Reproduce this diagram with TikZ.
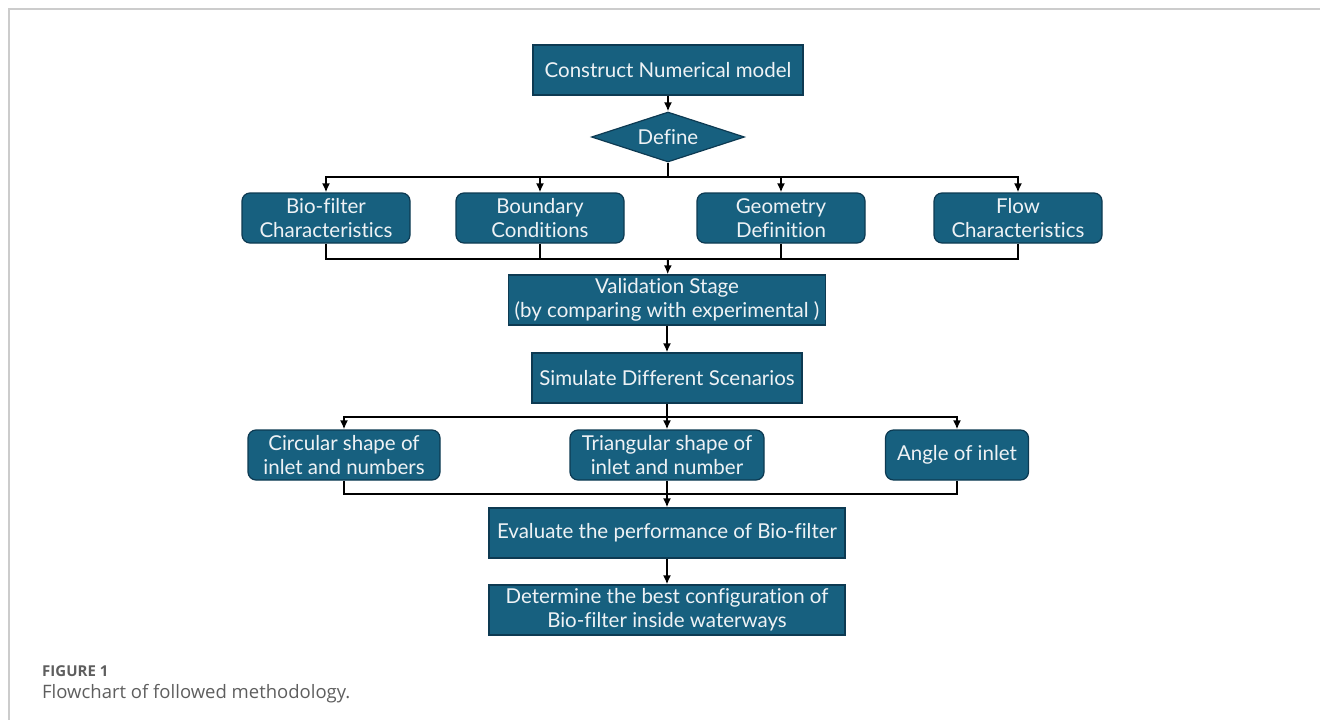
\documentclass[tikz,border=0pt]{standalone}
\usepackage{fontspec}
\setmainfont[Ligatures={NoCommon}]{Lato}
\newfontfamily\capfont{Open Sans}
\usetikzlibrary{shapes.geometric,arrows.meta}
\definecolor{boxblue}{HTML}{17607F}
\definecolor{boxedge}{HTML}{0D3A52}
\definecolor{boxtext}{HTML}{EEF2F5}
\definecolor{framegray}{HTML}{CCCCCC}
\definecolor{capgray}{HTML}{5E5E5E}
\begin{document}
\begin{tikzpicture}[x=1pt,y=-1pt,
    font=\fontsize{20.5}{24}\selectfont,
    stepbox/.style={draw=boxedge,line width=1.2pt,fill=boxblue,text=boxtext,
        align=center,inner sep=0pt,minimum height=50pt},
    roundbox/.style={stepbox,rounded corners=8pt},
    choice/.style={stepbox,diamond,aspect=3,minimum width=153pt,minimum height=50pt},
    conn/.style={line width=2pt},
    arr/.style={conn,-{Latex[length=9pt,width=8pt]}}]
\useasboundingbox (0,0) rectangle (1320,720);
% frame
\draw[framegray,line width=2pt] (9,720) -- (9,9) -- (1320,9);
% main column
\node[stepbox,minimum width=270pt] (model) at (668,70) {Construct Numerical model};
\node[choice] (define) at (668,137) {Define};
% what is defined
\node[roundbox,minimum width=168pt] (bio) at (326,218) {Bio-filter\\Characteristics};
\node[roundbox,minimum width=168pt] (bound) at (540,218) {Boundary\\Conditions};
\node[roundbox,minimum width=168pt] (geom) at (781,218) {Geometry\\Definition};
\node[roundbox,minimum width=168pt] (flow) at (1018,218) {Flow\\Characteristics};
\node[stepbox,minimum width=317pt] (valid) at (667,300) {Validation Stage\\(by comparing with experimental )};
\node[stepbox,minimum width=270pt] (sim) at (667,378) {Simulate Different Scenarios};
% scenarios
\node[roundbox,minimum width=192pt] (circ) at (344,455) {Circular shape of\\inlet and numbers};
\node[roundbox,minimum width=194pt] (tri) at (667,455) {Triangular shape of\\inlet and number};
\node[roundbox,minimum width=143pt] (angle) at (957,455) {Angle of inlet};
\node[stepbox,minimum width=356pt] (eval) at (667,533) {Evaluate the performance of Bio-filter};
\node[stepbox,minimum width=356pt] (best) at (667,610) {Determine the best configuration of\\Bio-filter inside waterways};
% split and merge points
\coordinate (split1) at (668,177);
\coordinate (merge1) at (668,259);
\coordinate (split2) at (667,417);
\coordinate (merge2) at (667,494);
% connectors
\draw[arr] (model) -- (define);
\draw[conn] (define.south) -- (split1);
\foreach \n in {bio,bound,geom,flow} {
    \draw[arr] (split1) -| (\n.north);
    \draw[conn] (\n.south) |- (merge1);
}
\draw[arr] (merge1) -- (valid);
\draw[arr] (valid) -- (sim);
\draw[conn] (sim.south) -- (split2);
\foreach \n in {circ,tri,angle} {
    \draw[arr] (split2) -| (\n.north);
    \draw[conn] (\n.south) |- (merge2);
}
\draw[arr] (merge2) -- (eval);
\draw[arr] (eval) -- (best);
% caption
\node[anchor=base west,font=\capfont\bfseries\fontsize{15}{18}\selectfont,text=capgray,inner sep=0pt] (figno) at (42,676) {FIGURE 1};
\node[anchor=base west,font=\capfont\fontsize{18.5}{23}\selectfont,text=capgray,inner sep=0pt] (caption) at (42,698) {Flowchart of followed methodology.};
\end{tikzpicture}
\end{document}
